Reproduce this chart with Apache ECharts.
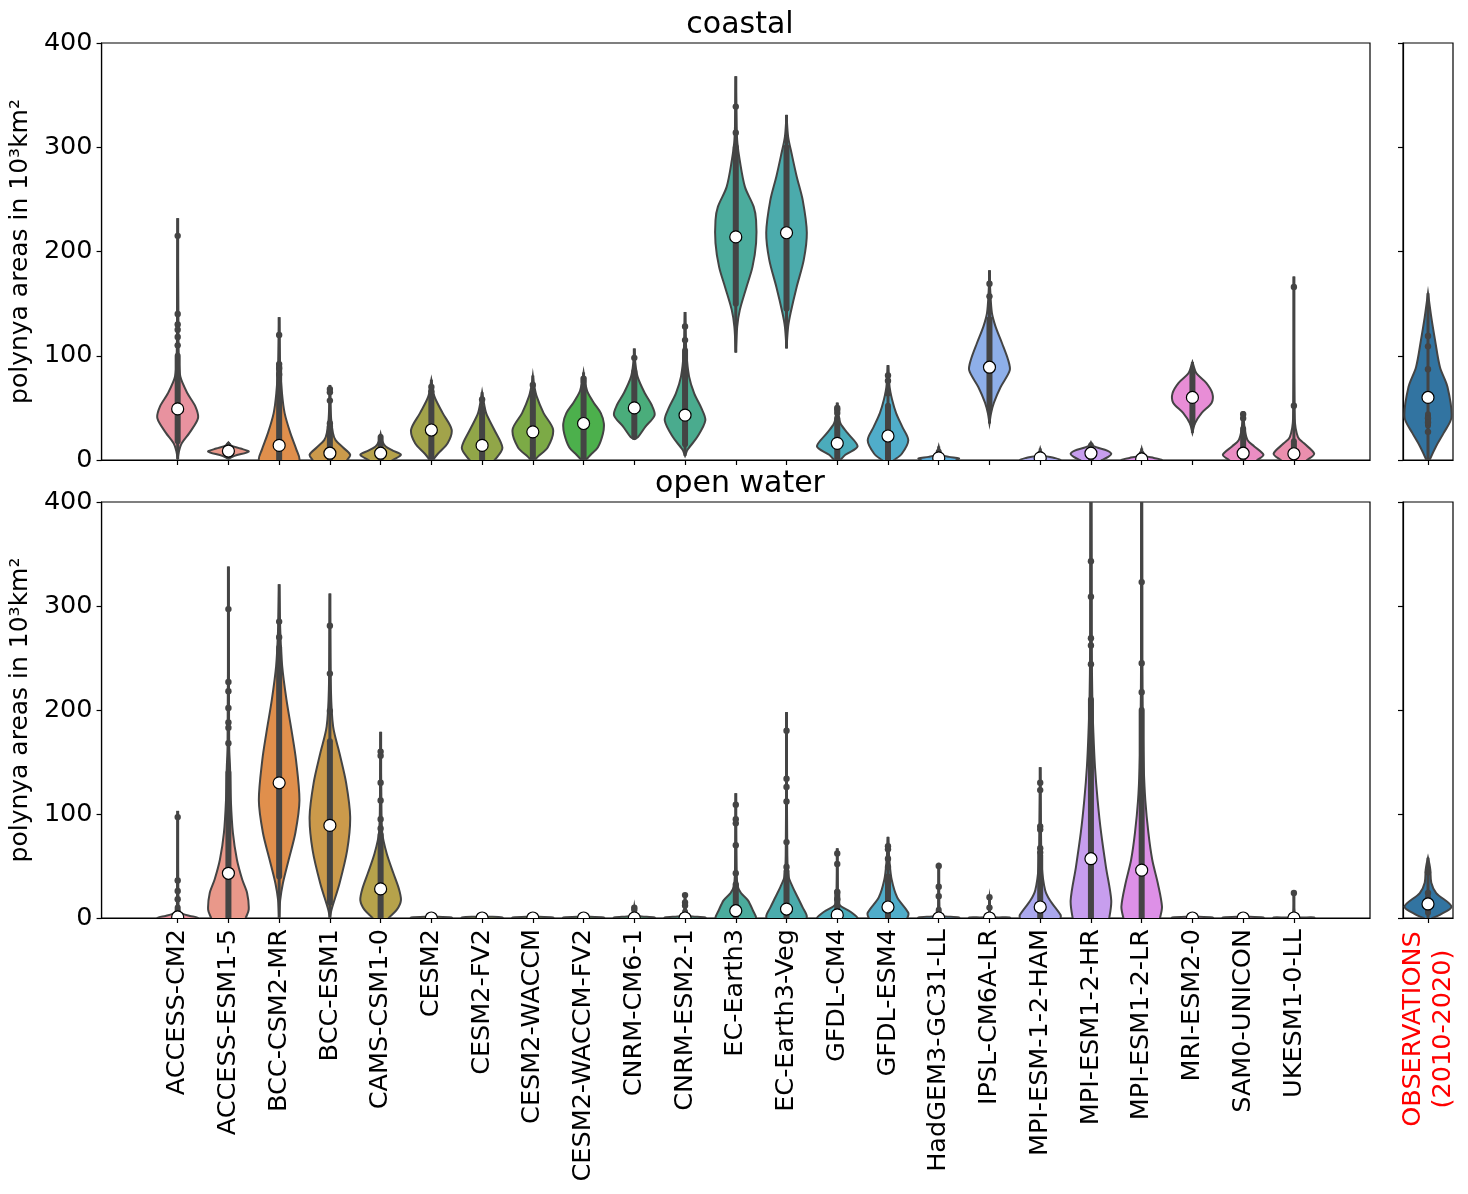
<!DOCTYPE html>
<html>
<head>
<meta charset="utf-8">
<script src="https://cdn.jsdelivr.net/npm/echarts@6/dist/echarts.min.js"></script>
<style>
html, body { margin: 0; padding: 0; background: #fff; }
#content { width: 1468px; height: 1194px; }
</style>
</head>
<body>
<div id="content"></div>
<script>
// model names (x categories)
var models = ['ACCESS-CM2', 'ACCESS-ESM1-5', 'BCC-CSM2-MR', 'BCC-ESM1', 'CAMS-CSM1-0', 'CESM2',
    'CESM2-FV2', 'CESM2-WACCM', 'CESM2-WACCM-FV2', 'CNRM-CM6-1', 'CNRM-ESM2-1', 'EC-Earth3',
    'EC-Earth3-Veg', 'GFDL-CM4', 'GFDL-ESM4', 'HadGEM3-GC31-LL', 'IPSL-CM6A-LR', 'MPI-ESM-1-2-HAM',
    'MPI-ESM1-2-HR', 'MPI-ESM1-2-LR', 'MRI-ESM2-0', 'SAM0-UNICON', 'UKESM1-0-LL'];
var obsName = 'OBSERVATIONS\n(2010-2020)';
var yTicks = [0, 100, 200, 300, 400];

var modelColors = ['#e8929f', '#e9988a', '#e08f4c', '#cb9a4b', '#b6a24b', '#a2a34a', '#91a648', '#7caa46',
    '#4cb04c', '#4aad7b', '#4aab8e', '#4bac9d', '#4babac', '#4bacbb', '#50adca', '#5aacd9', '#8eafe9',
    '#aba8ee', '#c79eee', '#dd90e7', '#e88dd6', '#ea8dc3', '#ea8fae'];
var obsColor = '#3274a1';

// violin outlines: [value, relative half width]
var coastalProfiles = [
    [[1,0],[8,0.06],[16,0.2],[26,0.58],[40,1],[51,0.88],[64,0.48],[80,0.13],[100,0.05],[140,0.03],[232,0]],
    [[1,0],[4,0.3],[8,1],[11,0.6],[14,0.12],[17,0]],
    [[-15,0.6],[0,1],[10,0.85],[26,0.55],[45,0.27],[64,0.14],[90,0.05],[137,0]],
    [[-8,0.5],[0,0.85],[5,1],[12,0.65],[19,0.28],[26,0.15],[40,0.06],[72,0]],
    [[-5,0.2],[0,0.6],[5,1],[9,0.6],[13,0.25],[18,0.08],[25,0]],
    [[-2,0],[6,0.32],[16,0.8],[29,1],[45,0.56],[61,0.15],[77,0]],
    [[-5,0.3],[3,0.75],[12,1],[29,0.6],[45,0.2],[58,0.06],[65,0]],
    [[-2,0],[3,0.24],[12,0.73],[29,1],[45,0.53],[61,0.19],[72,0.06],[81,0]],
    [[-2,0],[5,0.35],[12,0.7],[25,0.95],[35,1],[45,0.85],[55,0.5],[65,0.2],[75,0.07],[84,0]],
    [[20,0],[22,0.18],[32,0.55],[43,1],[53,0.85],[64,0.52],[80,0.16],[95,0.04],[107,0]],
    [[4,0],[10,0.13],[22,0.6],[38,1],[50,0.8],[64,0.45],[80,0.2],[102,0.07],[142,0]],
    [[103,0],[128,0.07],[144,0.2],[166,0.53],[185,0.82],[208,1],[230,1],[243,0.88],[262,0.45],[288,0.19],[304,0.08],[320,0.04],[368,0]],
    [[107,0],[128,0.08],[141,0.2],[166,0.5],[192,0.85],[218,1],[249,0.8],[272,0.5],[294,0.25],[310,0.08],[331,0]],
    [[-3,0],[0,0.15],[5,0.4],[13,1],[26,0.5],[35,0.16],[45,0.05],[55,0]],
    [[-4,0],[0,0.3],[6,0.68],[19,1],[32,0.7],[45,0.4],[58,0.2],[70,0.08],[91,0]],
    [[-3,0.5],[0,0.9],[1.5,1],[3,0.5],[5,0.15],[8,0.06],[13,0]],
    [[35,0],[45,0.08],[55,0.22],[70,0.55],[86,1],[96,0.92],[112,0.62],[128,0.3],[141,0.12],[162,0.04],[182,0]],
    [[-2,0.8],[0,1],[2,0.7],[4,0.2],[6,0.07],[11,0]],
    [[-2,0.3],[0,0.55],[3,0.85],[6,1],[9,0.8],[12,0.3],[14,0.08],[17,0]],
    [[-2,0.9],[0,1],[2,0.6],[4,0.15],[7,0.05],[11,0]],
    [[26,0],[35,0.12],[45,0.45],[55,0.95],[64,0.98],[74,0.68],[83,0.2],[89,0.08],[94,0]],
    [[-4,0.4],[0,0.7],[5,1],[13,0.55],[19,0.22],[29,0.08],[47,0]],
    [[-4,0.4],[0,0.65],[6,1],[16,0.5],[22,0.2],[40,0.04],[176,0]]
];
var coastalMedians = [49, 8.6, 14, 6.5, 6.5, 28.8, 14, 27, 35, 50, 43, 214, 218, 16, 23, 2, 89, 2, 6.5, 1, 60, 6.5, 6];
var coastalDense = [[18,100],[4,14],[0,90],[0,30],[0,22],[0,62],[0,45],[0,62],[2,72],[22,85],[15,105],[150,300],
    [145,300],[0,40],[0,52],[0,8],[50,135],[0,6],[2,14],[0,6],[35,85],[0,30],[0,18]];
var coastalDots = [[215,140,130,125,118,110],[],[120,92,88,82],[68,65,57,35,32],[],[66,70],[58,49],[72,64],[78,75],
    [98],[128,115],[339,314],[],[50,48,45],[81,76,64],[],[169,157],[],[],[],[],[44,40],[166,52]];

var openProfiles = [
    [[-5,0.8],[0,1],[2,0.6],[4,0.25],[6,0.1],[10,0.04],[103,0]],
    [[-5,0.75],[0,0.85],[8,1],[24,0.92],[37,0.68],[56,0.42],[82,0.22],[113,0.12],[145,0.08],[165,0.04],[338,0]],
    [[0,0],[17,0.05],[33,0.18],[56,0.47],[82,0.8],[113,1],[152,0.83],[178,0.63],[210,0.36],[242,0.15],[274,0.06],[321,0]],
    [[0,0],[8,0.08],[33,0.47],[65,0.85],[97,1],[130,0.8],[158,0.48],[184,0.16],[220,0.05],[312,0]],
    [[-5,0.2],[0,0.4],[8,0.8],[17,1],[28,0.9],[43,0.63],[62,0.3],[82,0.08],[120,0.03],[179,0]],
    [[-2,1],[0.5,1],[1.5,0]],
    [[-2,1],[0.5,1],[1.5,0.1],[3,0]],
    [[-2,1],[0.5,1],[1.5,0]],
    [[-2,1],[0.5,1],[1.5,0]],
    [[-2,1],[0.5,1],[2,0.2],[5,0.05],[11.5,0]],
    [[-2,1],[0.5,1],[2,0.2],[5,0.06],[24,0]],
    [[-5,0.8],[0,1],[7,0.85],[17,0.6],[24,0.26],[30,0.1],[45,0.04],[120,0]],
    [[-5,0.8],[1.5,1],[10,0.8],[20,0.55],[30,0.3],[40,0.1],[60,0.04],[198,0]],
    [[-3,0.9],[0,1],[6,0.65],[11,0.2],[14,0.08],[25,0.03],[67,0]],
    [[-3,0.8],[0,0.95],[5,1],[20,0.45],[37,0.18],[53,0.08],[78,0]],
    [[-2,1],[0.5,1],[2,0.15],[5,0.04],[53,0]],
    [[-2,1],[0.5,1],[2,0.1],[20,0]],
    [[-3,0.9],[0,1],[3,1],[17,0.48],[27,0.24],[49,0.08],[82,0.04],[145,0]],
    [[-5,0.8],[0,0.9],[17,1],[49,0.74],[82,0.5],[113,0.33],[145,0.2],[178,0.12],[210,0.07],[260,0.04],[420,0.02]],
    [[-5,0.8],[0,0.9],[11,1],[33,0.8],[56,0.52],[82,0.33],[113,0.18],[145,0.1],[178,0.06],[250,0.03],[420,0.02]],
    [[-2,1],[0.5,1],[1.5,0]],
    [[-2,1],[0.5,1],[1.5,0]],
    [[-2,1],[0.5,1],[2,0.1],[24,0]]
];
var openMedians = [1, 43, 130, 89, 28, 0, 0, 0, 0, 0, 0, 7, 8.6, 3, 10.6, 0, 0, 10.6, 57, 46, 0, 0, 0];
var openDense = [[0,10],[0,140],[40,260],[15,170],[0,80],[0,0.5],[0,1],[0,0.5],[0,0.5],[0,4],[0,6],[0,30],
    [0,45],[0,25],[0,40],[0,8],[0,3],[0,60],[0,210],[0,200],[0,0.5],[0,0.5],[0,1]];
var openDots = [[97,36,26,18],[297,227,218,202,188,183,168],[285,270],[281,235,199],[160,156,130,113,95,86],[],[2],[],[],
    [10,8],[22,15,12],[109,95,91,70,43,32],[180,134,126,112,73,49],[62,52,25,18],[69,66,57,49],[50,30,21],[20,10],
    [130,123,88,85,67,63],[343,309,269,262,244],[323,245,217],[],[],[24]];

var obsCoastalProfile = [[-5,0],[0,0.07],[13,0.34],[26,0.67],[41,1],[70,0.83],[89,0.51],[115,0.3],[137,0.14],[160,0]];
var obsCoastalMedian = 60;
var obsCoastalDense = [33, 44];
var obsCoastalDots = [119, 109, 87, 40, 36, 27];
var obsOpenProfile = [[-3,0],[0,0.2],[3,0.5],[11,1],[24,0.35],[34,0.14],[46,0.1],[52,0.06],[58,0]];
var obsOpenMedian = 13.5;
var obsOpenDense = [5, 20];
var obsOpenDots = [44, 24];

var FONT = 'DejaVu Sans';
var EDGE = '#444444';
var TICK_FONT = 25.5;

var chart = echarts.init(document.getElementById('content'));

// draws one violin with inner points and median through the axis scales
function violinRenderer(profiles, medians, dense, dots, colorList, half) {
    return function (params, api) {
        var i = params.dataIndex;
        var x = api.value(0);
        var prof = profiles[i];
        var pts = [];
        for (var k = 0; k < prof.length; k++) {
            pts.push(api.coord([x + half * prof[k][1], prof[k][0]]));
        }
        for (var k2 = prof.length - 1; k2 >= 0; k2--) {
            pts.push(api.coord([x - half * prof[k2][1], prof[k2][0]]));
        }
        var children = [{
            type: 'polygon',
            shape: { points: pts, smooth: 0.3 },
            style: { fill: colorList[i], stroke: EDGE, lineWidth: 2 }
        }];
        var lo = api.coord([x, prof[0][0]]);
        var hi = api.coord([x, prof[prof.length - 1][0]]);
        children.push({
            type: 'line',
            shape: { x1: lo[0], y1: lo[1], x2: hi[0], y2: hi[1] },
            style: { stroke: EDGE, lineWidth: 3 }
        });
        var d0 = api.coord([x, dense[i][0]]);
        var d1 = api.coord([x, dense[i][1]]);
        children.push({
            type: 'line',
            shape: { x1: d0[0], y1: d0[1], x2: d1[0], y2: d1[1] },
            style: { stroke: EDGE, lineWidth: 6, lineCap: 'round' }
        });
        dots[i].forEach(function (v) {
            var c = api.coord([x, v]);
            children.push({ type: 'circle', shape: { cx: c[0], cy: c[1], r: 3.2 }, style: { fill: EDGE } });
        });
        var m = api.coord([x, medians[i]]);
        children.push({
            type: 'circle',
            shape: { cx: m[0], cy: m[1], r: 6 },
            style: { fill: '#fff', stroke: '#000', lineWidth: 1.2 }
        });
        return { type: 'group', children: children };
    };
}

function yAxisFor(gridIndex, showLabels, name) {
    return {
        type: 'value', gridIndex: gridIndex, min: 0, max: 400, interval: 100,
        name: name || '', nameLocation: 'middle', nameGap: 67,
        nameTextStyle: { fontFamily: FONT, fontSize: 25, color: '#000' },
        axisLine: { show: true, onZero: false, lineStyle: { color: '#000', width: 1.2 } },
        axisTick: { show: true, length: 5, lineStyle: { color: '#000', width: 1.2 } },
        axisLabel: { show: showLabels, margin: 9, fontFamily: FONT, fontSize: TICK_FONT, color: '#000' },
        splitLine: { show: false }
    };
}

var tickIdx = models.map(function (m, i) { return i; });

function mainXAxis(gridIndex, showLabels) {
    return {
        type: 'value', gridIndex: gridIndex, min: -1.5, max: 23.5,
        axisLine: { show: true, onZero: false, lineStyle: { color: '#000', width: 1.2 } },
        axisTick: { show: true, length: 5, customValues: tickIdx, lineStyle: { color: '#000', width: 1.2 } },
        axisLabel: {
            show: showLabels, customValues: tickIdx, rotate: 90, margin: 11,
            fontFamily: FONT, fontSize: TICK_FONT, color: '#000',
            formatter: function (v) { return models[Math.round(v)]; }
        },
        splitLine: { show: false }
    };
}

function obsXAxis(gridIndex, showLabels) {
    return {
        type: 'value', gridIndex: gridIndex, min: -0.5, max: 0.5,
        axisLine: { show: true, onZero: false, lineStyle: { color: '#000', width: 1.2 } },
        axisTick: { show: true, length: 5, customValues: [0], lineStyle: { color: '#000', width: 1.2 } },
        axisLabel: {
            show: showLabels, customValues: [0], rotate: 90, margin: 111, align: 'center',
            fontFamily: FONT, fontSize: TICK_FONT, color: 'red', lineHeight: 30,
            formatter: function () { return obsName; }
        },
        splitLine: { show: false }
    };
}

var gridStyle = { show: true, borderColor: '#000', borderWidth: 1.2, backgroundColor: 'transparent' };

var option = {
    animation: false,
    backgroundColor: '#fff',
    title: [
        { text: 'coastal', left: 735, top: 5, textAlign: 'center',
          textStyle: { fontFamily: FONT, fontSize: 30, fontWeight: 'normal', color: '#000' } },
        { text: 'open water', left: 735, top: 464, textAlign: 'center',
          textStyle: { fontFamily: FONT, fontSize: 30, fontWeight: 'normal', color: '#000' } }
    ],
    grid: [
        Object.assign({ left: 100, top: 43, width: 1270, height: 417 }, gridStyle),
        Object.assign({ left: 1403, top: 43, width: 50, height: 417 }, gridStyle),
        Object.assign({ left: 100, top: 502, width: 1270, height: 416 }, gridStyle),
        Object.assign({ left: 1403, top: 502, width: 50, height: 416 }, gridStyle)
    ],
    xAxis: [mainXAxis(0, false), obsXAxis(1, false), mainXAxis(2, true), obsXAxis(3, true)],
    yAxis: [
        yAxisFor(0, true, 'polynya areas in 10³km²'),
        yAxisFor(1, false),
        yAxisFor(2, true, 'polynya areas in 10³km²'),
        yAxisFor(3, false)
    ],
    series: [
        {
            type: 'custom', name: 'coastal', xAxisIndex: 0, yAxisIndex: 0, clip: true,
            data: tickIdx.map(function (i) { return [i]; }),
            renderItem: violinRenderer(coastalProfiles, coastalMedians, coastalDense, coastalDots, modelColors, 0.4)
        },
        {
            type: 'custom', name: 'coastal obs', xAxisIndex: 1, yAxisIndex: 1, clip: true,
            data: [[0]],
            renderItem: violinRenderer([obsCoastalProfile], [obsCoastalMedian], [obsCoastalDense], [obsCoastalDots], [obsColor], 0.47)
        },
        {
            type: 'custom', name: 'open water', xAxisIndex: 2, yAxisIndex: 2, clip: true,
            data: tickIdx.map(function (i) { return [i]; }),
            renderItem: violinRenderer(openProfiles, openMedians, openDense, openDots, modelColors, 0.4)
        },
        {
            type: 'custom', name: 'open water obs', xAxisIndex: 3, yAxisIndex: 3, clip: true,
            data: [[0]],
            renderItem: violinRenderer([obsOpenProfile], [obsOpenMedian], [obsOpenDense], [obsOpenDots], [obsColor], 0.47)
        }
    ]
};

chart.setOption(option);
</script>
</body>
</html>
